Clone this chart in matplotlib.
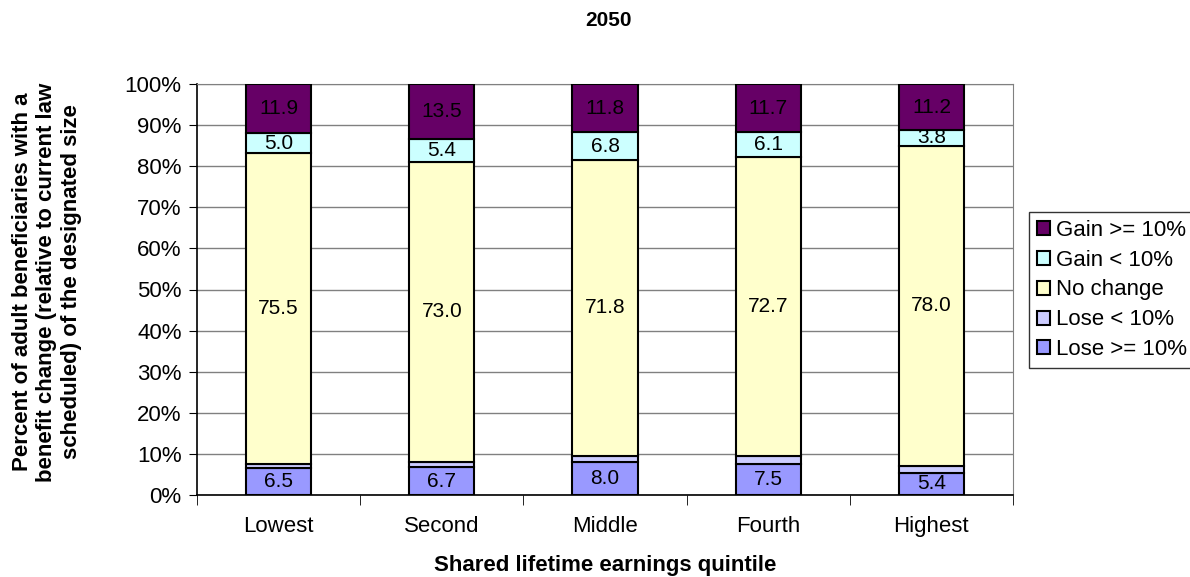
import matplotlib.pyplot as plt
import numpy as np

plt.rcParams['font.family'] = ['Liberation Sans', 'DejaVu Sans']

quintiles = ['Lowest', 'Second', 'Middle', 'Fourth', 'Highest']
lose_big = [6.5, 6.7, 8.0, 7.5, 5.4]
lose_small = [1.1, 1.4, 1.6, 2.0, 1.6]
no_change = [75.5, 73.0, 71.8, 72.7, 78.0]
gain_small = [5.0, 5.4, 6.8, 6.1, 3.8]
gain_big = [11.9, 13.5, 11.8, 11.7, 11.2]

series = [
    ('Lose >= 10%', lose_big, '#9999FF', True),
    ('Lose < 10%', lose_small, '#CCCCFF', False),
    ('No change', no_change, '#FFFFCC', True),
    ('Gain < 10%', gain_small, '#CCFFFF', True),
    ('Gain >= 10%', gain_big, '#660066', True),
]

fig = plt.figure(figsize=(11.9, 5.77), dpi=100)
ax = fig.add_axes([197/1190, 1 - 495/577, 816/1190, 411/577])

x = np.arange(len(quintiles))
bottom = np.zeros(len(quintiles))
handles = []
for name, vals, color, labelled in series:
    vals = np.array(vals)
    b = ax.bar(x, vals, 0.4, bottom=bottom, color=color, edgecolor='black',
               linewidth=1.5, label=name, zorder=3)
    handles.append(b)
    if labelled:
        for xi, v, b0 in zip(x, vals, bottom):
            ax.text(xi, b0 + v / 2, f'{v:.1f}', ha='center', va='center',
                    fontsize=15, color='black', zorder=4)
    bottom += vals

ax.set_xlim(-0.5, len(quintiles) - 0.5)
ax.set_ylim(0, 100)
ax.set_yticks(np.arange(0, 101, 10))
ax.set_yticklabels([f'{v}%' for v in range(0, 101, 10)], fontsize=16)
ax.set_xticks(x)
ax.set_xticklabels(quintiles, fontsize=16)
ax.set_xticks(np.arange(-0.5, len(quintiles), 1), minor=True)
ax.tick_params(axis='x', which='major', length=0, pad=15)
ax.tick_params(axis='x', which='minor', length=7, direction='out', color='black')
ax.tick_params(axis='y', length=6, direction='out', color='black', pad=5)
ax.yaxis.grid(True, color='#808080', linewidth=1, zorder=0)
ax.set_axisbelow(True)
for s in ['top', 'right']:
    ax.spines[s].set_color('#808080')
for s in ['left', 'bottom']:
    ax.spines[s].set_color('black')
    ax.spines[s].set_linewidth(1.2)

fig.text(605/1190, 1 - 565/577, 'Shared lifetime earnings quintile',
         ha='center', va='center', fontsize=16, fontweight='bold')
fig.text(47/1190, 1 - 282/577,
         'Percent of adult beneficiaries with a\nbenefit change (relative to current law\nscheduled) of the designated size',
         rotation=90, ha='center', va='center', multialignment='center',
         fontsize=16, fontweight='bold')
fig.text(608/1190, 1 - 20/577, '2050', ha='center', va='center', fontsize=15, fontweight='bold')

leg = fig.legend(handles[::-1], [s[0] for s in series][::-1],
                 loc='center left', bbox_to_anchor=(1029/1190, 1 - 290/577),
                 fontsize=16, frameon=True, fancybox=False, edgecolor='black',
                 handlelength=0.6, handleheight=0.6, handletextpad=0.25,
                 labelspacing=0.4, borderpad=0.35, borderaxespad=0)
leg.get_frame().set_linewidth(1)

fig.savefig('out.png', dpi=100)
